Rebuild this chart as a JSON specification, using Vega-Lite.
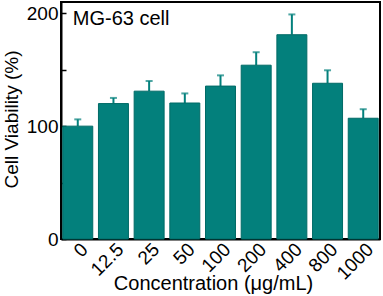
{
  "$schema": "https://vega.github.io/schema/vega-lite/v6.json",
  "width": 319,
  "height": 237,
  "autosize": "none",
  "padding": {"left": 61, "top": 2, "right": 3, "bottom": 57},
  "background": "white",
  "config": {
    "font": "Liberation Sans",
    "view": {"stroke": "black", "strokeWidth": 2},
    "axis": {
      "domainColor": "black",
      "domainWidth": 2,
      "tickColor": "black",
      "tickWidth": 1.5,
      "labelColor": "black",
      "titleColor": "black",
      "labelFont": "Liberation Sans",
      "titleFont": "Liberation Sans",
      "grid": false
    }
  },
  "data": {
    "values": [
      {"conc": "0", "value": 100, "upper": 106},
      {"conc": "12.5", "value": 120, "upper": 125},
      {"conc": "25", "value": 131, "upper": 140},
      {"conc": "50", "value": 120.5, "upper": 129},
      {"conc": "100", "value": 135.5, "upper": 145},
      {"conc": "200", "value": 154, "upper": 165.5},
      {"conc": "400", "value": 181, "upper": 199},
      {"conc": "800", "value": 138, "upper": 149.5},
      {"conc": "1000", "value": 107, "upper": 115}
    ]
  },
  "encoding": {
    "x": {
      "field": "conc",
      "type": "nominal",
      "sort": null,
      "scale": {"paddingInner": 0.16, "paddingOuter": 0.05},
      "axis": {
        "title": "Concentration (μg/mL)",
        "titleFontSize": 20,
        "titleFontWeight": "normal",
        "titleBaseline": "middle",
        "titleX": 152,
        "titleY": 44,
        "labelAngle": -45,
        "labelAlign": "right",
        "labelBaseline": "middle",
        "labelFontSize": 19,
        "labelPadding": 12,
        "labelOffset": 7,
        "tickSize": -5
      }
    }
  },
  "layer": [
    {
      "mark": {"type": "rule", "color": "#03807c", "strokeWidth": 2},
      "encoding": {
        "y": {"field": "value", "type": "quantitative"},
        "y2": {"field": "upper"}
      }
    },
    {
      "mark": {"type": "tick", "color": "#03807c", "size": 7, "thickness": 2},
      "encoding": {
        "y": {"field": "upper", "type": "quantitative"}
      }
    },
    {
      "mark": {"type": "bar", "color": "#03807c", "stroke": "#006a66", "strokeWidth": 1},
      "encoding": {
        "y": {
          "field": "value",
          "type": "quantitative",
          "scale": {"domain": [0, 210], "nice": false},
          "axis": {
            "title": "Cell Viability (%)",
            "titleFontSize": 19,
            "titleFontWeight": "normal",
            "titleBaseline": "middle",
            "titleX": -50,
            "titleY": 117,
            "values": [0, 50, 100, 150, 200],
            "labelExpr": "datum.value % 100 == 0 ? datum.label : ''",
            "labelFontSize": 19,
            "labelPadding": 8,
            "tickSize": -5
          }
        }
      }
    },
    {
      "data": {"values": [{"label": "MG-63 cell", "conc": "0", "pos": 195}]},
      "mark": {"type": "text", "fontSize": 20, "align": "left", "baseline": "middle", "dx": -5, "color": "black"},
      "encoding": {
        "text": {"field": "label"},
        "x": {"field": "conc", "type": "nominal"},
        "y": {"field": "pos", "type": "quantitative"}
      }
    }
  ]
}
